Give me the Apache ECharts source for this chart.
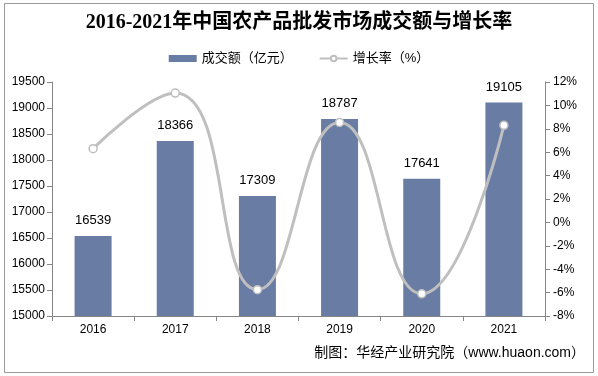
<!DOCTYPE html>
<html>
<head>
<meta charset="utf-8">
<script src="https://cdn.jsdelivr.net/npm/echarts@6/dist/echarts.min.js"></script>
<style>
  html, body { margin: 0; padding: 0; background: #fff; }
  #chart { width: 598px; height: 376px; }
</style>
</head>
<body>
<div id="chart"></div>
<script>
// 数据
const years = ["2016", "2017", "2018", "2019", "2020", "2021"];
const amount = [16539, 18366, 17309, 18787, 17641, 19105]; // 成交额（亿元）
const growth = [6.3, 11.05, -5.75, 8.54, -6.1, 8.3];        // 增长率（%）

const chart = echarts.init(document.getElementById("chart"));

const axisGray = "#868686";
const labelFont = { color: "#000", fontSize: 12, fontFamily: "Liberation Sans, Arial" };

const option = {
    backgroundColor: "#fff",
    animation: false,
    title: {
        text: "2016-2021年中国农产品批发市场成交额与增长率",
        left: "center",
        top: 8,
        textStyle: {
            fontSize: 20,
            fontWeight: "bold",
            color: "#000",
            fontFamily: "'Liberation Serif', 'Noto Sans CJK SC'"
        }
    },
    legend: {
        top: 47,
        left: "center",
        itemGap: 26,
        itemWidth: 28,
        itemHeight: 7,
        textStyle: { color: "#000", fontSize: 13, fontFamily: "'Liberation Sans', 'Noto Sans CJK SC'" },
        data: [
            { name: "成交额（亿元）", icon: "rect" },
            { name: "增长率（%）" }
        ]
    },
    grid: {
        left: 52,
        right: 53,
        top: 82,
        bottom: 60
    },
    xAxis: {
        type: "category",
        data: years,
        axisLine: { onZero: false, lineStyle: { color: axisGray } },
        axisTick: { show: true, alignWithLabel: false, lineStyle: { color: axisGray } },
        axisLabel: Object.assign({ margin: 8 }, labelFont)
    },
    yAxis: [
        {
            type: "value",
            min: 15000,
            max: 19500,
            interval: 500,
            axisLine: { show: true, lineStyle: { color: axisGray } },
            axisTick: { show: true, lineStyle: { color: axisGray } },
            splitLine: { show: false },
            axisLabel: Object.assign({ margin: 7, formatter: (v) => String(v) }, labelFont)
        },
        {
            type: "value",
            min: -8,
            max: 12,
            interval: 2,
            position: "right",
            axisLine: { show: true, lineStyle: { color: axisGray } },
            axisTick: { show: true, lineStyle: { color: axisGray } },
            splitLine: { show: false },
            axisLabel: Object.assign({ margin: 8, formatter: "{value}%" }, labelFont)
        }
    ],
    series: [
        {
            name: "成交额（亿元）",
            type: "bar",
            data: amount,
            barWidth: 37,
            itemStyle: { color: "#687CA4" },
            label: {
                show: true,
                position: "top",
                distance: 9,
                color: "#000",
                fontSize: 13,
                fontFamily: "Liberation Sans, Arial"
            }
        },
        {
            name: "增长率（%）",
            type: "line",
            yAxisIndex: 1,
            data: growth,
            smooth: 0.5,
            symbol: "circle",
            symbolSize: 8,
            lineStyle: { color: "#BFBFBF", width: 3 },
            itemStyle: { color: "#fff", borderColor: "#BFBFBF", borderWidth: 1.5 }
        }
    ],
    graphic: [
        {
            type: "rect",
            shape: { x: 4.5, y: 3.5, width: 589, height: 369 },
            style: { fill: "none", stroke: "#9a9a9a", lineWidth: 1 },
            z: 100
        },
        {
            type: "text",
            right: 13,
            top: 346,
            style: {
                text: "制图：华经产业研究院（www.huaon.com）",
                fill: "#000",
                font: "14px 'Liberation Sans', 'Noto Sans CJK SC'"
            }
        }
    ]
};

chart.setOption(option);
</script>
</body>
</html>
